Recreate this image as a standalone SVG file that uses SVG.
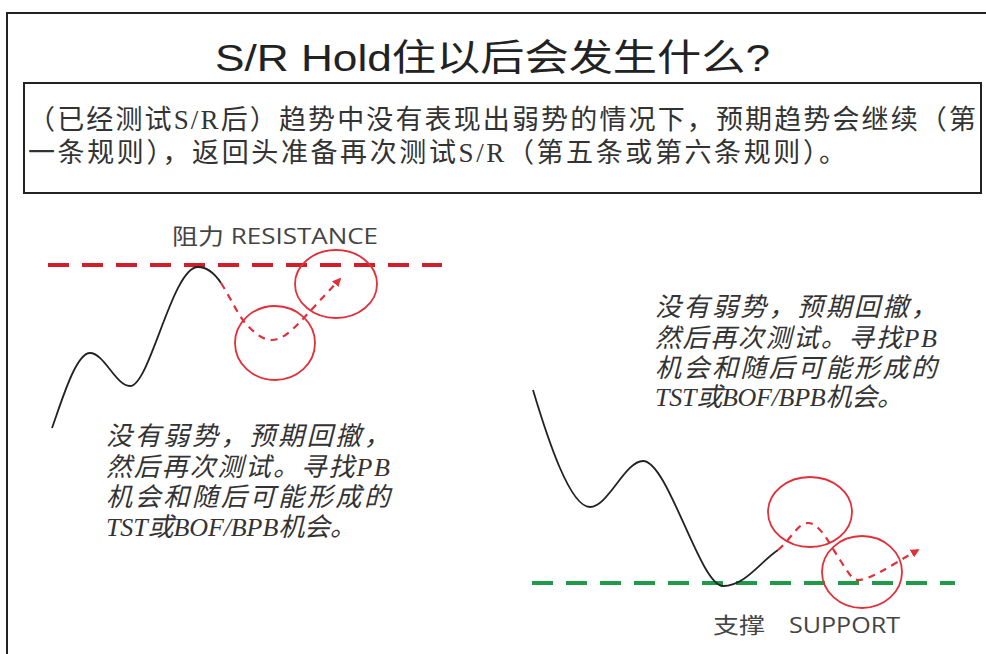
<svg xmlns="http://www.w3.org/2000/svg" width="986" height="654" viewBox="0 0 986 654">
<defs>
<style>
.frame{fill:none;stroke:#222;stroke-width:2}
.price{fill:none;stroke:#222;stroke-width:1.8}
.redd{fill:none;stroke:#e0303a;stroke-width:2.2;stroke-dasharray:7 6}
.circ{fill:none;stroke:#e0303a;stroke-width:1.8}
.title{font-family:"Liberation Sans","Noto Sans CJK SC",sans-serif;font-size:37px;fill:#222}
.box{font-family:"Liberation Serif","Noto Sans CJK SC",serif;font-size:27px;fill:#333}
.note{font-family:"Liberation Serif","Noto Sans CJK SC",serif;font-size:26px;font-style:italic;fill:#333}
.lbl{font-family:"Open Sans","Noto Sans CJK SC",sans-serif;font-size:22px;fill:#444}
</style>
<marker id="arr" viewBox="0 0 10 10" refX="8" refY="5" markerWidth="4" markerHeight="4" orient="auto" markerUnits="strokeWidth">
<path d="M0,0 L10,5 L0,10 z" fill="#e0303a"/>
</marker>
</defs>
<rect width="986" height="654" fill="#fff"/>
<path class="frame" d="M7,654 V13 H986"/>
<g id="title">
<text class="title" x="215" y="71" textLength="555" lengthAdjust="spacingAndGlyphs">S/R Hold住以后会发生什么?</text>
</g>
<g id="desc">
<rect class="frame" x="24" y="83" width="957" height="110"/>
<text class="box" x="28" y="129" textLength="948" lengthAdjust="spacing">（已经测试S/R后）趋势中没有表现出弱势的情况下，预期趋势会继续（第</text>
<text class="box" x="28" y="162" textLength="818" lengthAdjust="spacing">一条规则），返回头准备再次测试S/R（第五条或第六条规则）。</text>
</g>
<g id="resistance">
<line x1="48" y1="265" x2="442" y2="265" stroke="#d01f2a" stroke-width="4" stroke-dasharray="21 13"/>
<text class="lbl" x="172" y="244" textLength="206" lengthAdjust="spacingAndGlyphs">阻力 RESISTANCE</text>
</g>
<g id="support">
<line x1="532" y1="583" x2="955" y2="583" stroke="#1e9a48" stroke-width="4" stroke-dasharray="21 13"/>
<text class="lbl" x="713" y="633"><tspan textLength="52" lengthAdjust="spacingAndGlyphs">支撑</tspan><tspan x="789" textLength="111" lengthAdjust="spacingAndGlyphs">SUPPORT</tspan></text>
</g>
<g id="connectors">
<path class="price" d="M52,428 C62,400 76,353 90,353 C104,353 116,386 130,386 C150,386 172,267 198,267 C208,267 215,274 221,283"/>
<path class="redd" marker-end="url(#arr)" d="M221,283 C232,300 240,320 250,328 C258,336 265,340 272,340 C282,340 292,330 300,322 L340,279"/>
<path class="price" d="M533,390 C548,440 570,507 590,507 C608,507 625,461 643,461 C668,461 700,586 723,586 C745,586 760,562 778,550"/>
<path class="redd" marker-end="url(#arr)" d="M778,550 C790,540 798,523 808,523 C820,523 830,545 840,560 C848,572 852,580 858,580 C870,580 890,566 918,550"/>
</g>
<g id="circles">
<ellipse class="circ" cx="275" cy="343" rx="40" ry="37"/>
<ellipse class="circ" cx="336" cy="284" rx="41" ry="34"/>
<ellipse class="circ" cx="810" cy="512" rx="42" ry="35"/>
<ellipse class="circ" cx="862" cy="572" rx="40" ry="36"/>
</g>
<g id="note-left">
<text class="note" x="106" y="445" textLength="284" lengthAdjust="spacing">没有弱势，预期回撤，</text>
<text class="note" x="106" y="476" textLength="284" lengthAdjust="spacing">然后再次测试。寻找PB</text>
<text class="note" x="106" y="506" textLength="284" lengthAdjust="spacing">机会和随后可能形成的</text>
<text class="note" x="106" y="536" textLength="250" lengthAdjust="spacing">TST或BOF/BPB机会。</text>
</g>
<g id="note-right">
<text class="note" x="655" y="316" textLength="282" lengthAdjust="spacing">没有弱势，预期回撤，</text>
<text class="note" x="655" y="347" textLength="282" lengthAdjust="spacing">然后再次测试。寻找PB</text>
<text class="note" x="655" y="377" textLength="282" lengthAdjust="spacing">机会和随后可能形成的</text>
<text class="note" x="655" y="406" textLength="248" lengthAdjust="spacing">TST或BOF/BPB机会。</text>
</g>
</svg>
